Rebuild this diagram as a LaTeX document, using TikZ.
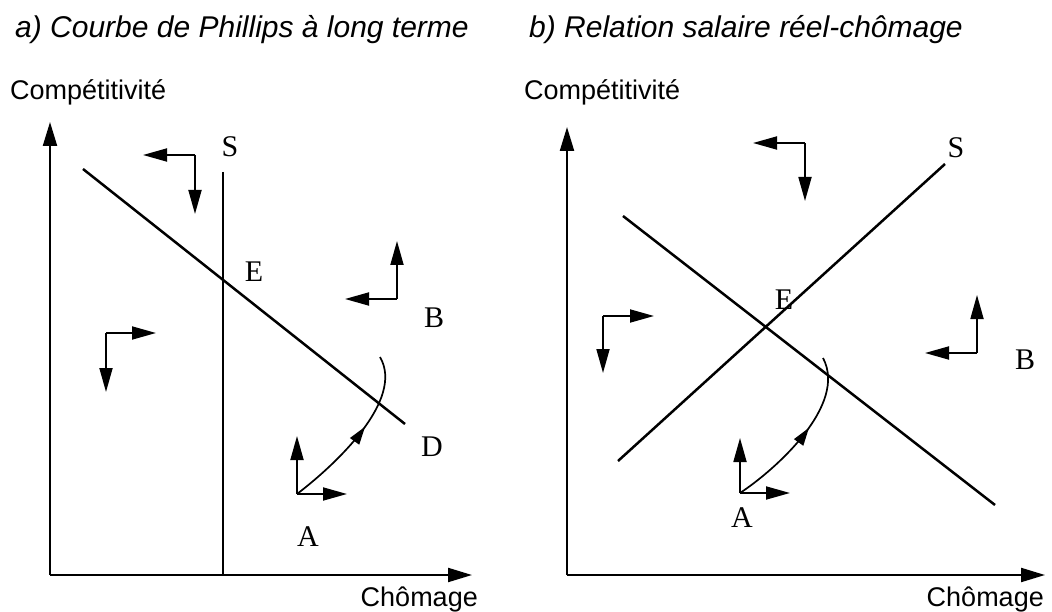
\documentclass[tikz,border=0pt]{standalone}
\usepackage{fontspec}
\setmainfont{Liberation Serif}
\newfontfamily\sansf{Liberation Sans}
\usetikzlibrary{arrows.meta,decorations.markings}
\begin{document}
\begin{tikzpicture}[x=1pt,y=-1pt,
  axisline/.style={line width=2.2pt,-{Triangle[length=24pt,width=14pt]}},
  mainline/.style={line width=2.5pt},
  pointer/.style={line width=1.8pt,-{Triangle[length=24pt,width=13pt]}},
  pathcurve/.style={line width=1.7pt,postaction={decorate},decoration={markings,
     mark=at position 0.56 with {\arrow{Triangle[length=18pt,width=11pt]}}}},
  lbl/.style={font=\fontsize{30}{32}\selectfont},
  axlbl/.style={font=\sansf\fontsize{27}{30}\selectfont,inner sep=0pt},
  ttl/.style={font=\sansf\itshape\fontsize{30}{32}\selectfont,inner sep=0pt}]
\useasboundingbox (0,0) rectangle (1052,612);
% titles
\node[ttl,anchor=base west] (ta) at (15,38) {a) Courbe de Phillips à long terme};
\node[ttl,anchor=base west] (tb) at (529,38) {b) Relation salaire réel-chômage};
% ---------------- panel a ----------------
\coordinate (aO) at (50,575);
\coordinate (aYt) at (50,122);
\coordinate (aXt) at (472,575);
\draw[axisline] (aO) -- (aYt);
\draw[axisline] (aO) -- (aXt);
\node[axlbl,anchor=base west] (acomp) at (10,100) {Compétitivité};
\node[axlbl,anchor=base east] (achom) at (478,606) {Chômage};
% S vertical
\coordinate (aS1) at (223,172);
\coordinate (aS2) at (223,575);
\draw[mainline] (aS1) -- (aS2);
% D line
\coordinate (aD1) at (83,169);
\coordinate (aD2) at (405,424);
\draw[mainline] (aD1) -- (aD2);
\node[lbl] (aSl) at (230,147) {S};
\node[lbl] (aEl) at (254,272) {E};
\node[lbl] (aBl) at (434,318) {B};
\node[lbl] (aDl) at (432,447) {D};
\node[lbl] (aAl) at (308,537) {A};
% pointer arrows
\coordinate (ac1) at (195,155);
\coordinate (ac1l) at (143,155);
\coordinate (ac1d) at (195,214);
\draw[pointer] (ac1) -- (ac1l);
\draw[pointer] (ac1) -- (ac1d);
\coordinate (ac2) at (106,333);
\coordinate (ac2r) at (156,333);
\coordinate (ac2d) at (106,392);
\draw[pointer] (ac2) -- (ac2r);
\draw[pointer] (ac2) -- (ac2d);
\coordinate (ac3) at (397,299);
\coordinate (ac3u) at (397,241);
\coordinate (ac3l) at (345,299);
\draw[pointer] (ac3) -- (ac3u);
\draw[pointer] (ac3) -- (ac3l);
\coordinate (ac4) at (297,494);
\coordinate (ac4u) at (297,436);
\coordinate (ac4r) at (347,494);
\draw[pointer] (ac4) -- (ac4u);
\draw[pointer] (ac4) -- (ac4r);
% curve
\coordinate (acE) at (380,357);
\draw[pathcurve] (ac4) .. controls (335,465) and (405,400) .. (acE);
% ---------------- panel b ----------------
\coordinate (bO) at (567,575);
\coordinate (bYt) at (567,127);
\coordinate (bXt) at (1045,575);
\draw[axisline] (bO) -- (bYt);
\draw[axisline] (bO) -- (bXt);
\node[axlbl,anchor=base west] (bcomp) at (524,100) {Compétitivité};
\node[axlbl,anchor=base east] (bchom) at (1044,606) {Chômage};
% S rising
\coordinate (bS1) at (618,461);
\coordinate (bS2) at (945,164);
\draw[mainline] (bS1) -- (bS2);
% D falling
\coordinate (bD1) at (623,216);
\coordinate (bD2) at (995,505);
\draw[mainline] (bD1) -- (bD2);
\node[lbl] (bSl) at (956,148) {S};
\node[lbl] (bEl) at (784,300) {E};
\node[lbl] (bBl) at (1025,360) {B};
\node[lbl] (bAl) at (742,518) {A};
% pointer arrows
\coordinate (bc1) at (805,143);
\coordinate (bc1l) at (753,143);
\coordinate (bc1d) at (805,201);
\draw[pointer] (bc1) -- (bc1l);
\draw[pointer] (bc1) -- (bc1d);
\coordinate (bc2) at (603,316);
\coordinate (bc2r) at (654,316);
\coordinate (bc2d) at (603,373);
\draw[pointer] (bc2) -- (bc2r);
\draw[pointer] (bc2) -- (bc2d);
\coordinate (bc3) at (977,353);
\coordinate (bc3u) at (977,295);
\coordinate (bc3l) at (925,353);
\draw[pointer] (bc3) -- (bc3u);
\draw[pointer] (bc3) -- (bc3l);
\coordinate (bc4) at (740,493);
\coordinate (bc4u) at (740,438);
\coordinate (bc4r) at (790,493);
\draw[pointer] (bc4) -- (bc4u);
\draw[pointer] (bc4) -- (bc4r);
% curve
\coordinate (bcE) at (823,358);
\draw[pathcurve] (bc4) .. controls (775,470) and (848,405) .. (bcE);
\end{tikzpicture}
\end{document}
